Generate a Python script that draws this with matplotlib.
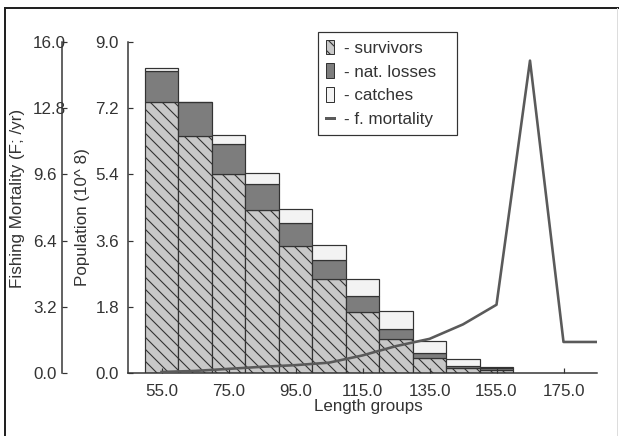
import matplotlib
matplotlib.use("Agg")
import matplotlib.pyplot as plt
from matplotlib.patches import Patch
from matplotlib.lines import Line2D

# length groups (mid points of 10 cm classes) and population in 10^8
groups = [55, 65, 75, 85, 95, 105, 115, 125, 135, 145, 155]
survivors = [7.37, 6.45, 5.40, 4.43, 3.45, 2.55, 1.67, 0.92, 0.40, 0.13, 0.08]
nat_losses = [0.84, 0.92, 0.84, 0.71, 0.62, 0.52, 0.42, 0.27, 0.15, 0.06, 0.05]
catches = [0.07, 0.0, 0.23, 0.29, 0.38, 0.41, 0.46, 0.49, 0.33, 0.18, 0.03]

# fishing mortality (F; /yr)
f_groups = [55, 65, 75, 85, 95, 105, 115, 125, 135, 145, 155, 165, 175, 185]
f_mort = [0.05, 0.1, 0.2, 0.3, 0.38, 0.5, 0.85, 1.3, 1.65, 2.35, 3.3, 15.1, 1.5, 1.5]

pop_ticks = [0.0, 1.8, 3.6, 5.4, 7.2, 9.0]
f_ticks = [0.0, 3.2, 6.4, 9.6, 12.8, 16.0]
x_ticks = [55, 75, 95, 115, 135, 155, 175]
labels = ['- survivors', '- nat. losses', '- catches', '- f. mortality']

W, H, DPI = 619, 436, 72
dark = '#333333'
c_surv, c_nat, c_catch, c_line = '#c8c8c8', '#7d7d7d', '#f3f3f3', '#5a5a5a'

plt.rcParams['font.family'] = ['Liberation Sans', 'DejaVu Sans']
plt.rcParams['font.size'] = 17
plt.rcParams['text.color'] = dark
plt.rcParams['hatch.linewidth'] = 1.1
plt.rcParams['xtick.direction'] = 'in'
plt.rcParams['ytick.direction'] = 'in'

fig = plt.figure(figsize=(W / DPI, H / DPI), dpi=DPI)
ax = fig.add_axes([128 / W, 1 - 373 / H, 469 / W, 331 / H])

# stacked bars
top2 = [s + n for s, n in zip(survivors, nat_losses)]
ax.bar(groups, survivors, width=10, color=c_surv, edgecolor=dark, hatch='\\\\', lw=1.2)
ax.bar(groups, nat_losses, width=10, bottom=survivors, color=c_nat, edgecolor=dark, lw=1.2)
ax.bar(groups, catches, width=10, bottom=top2, color=c_catch, edgecolor=dark, lw=1.2)

ax.set_xlim(45, 185)
ax.set_ylim(0, 9)
ax.set_xticks(x_ticks, [f'{v:.1f}' for v in x_ticks])
ax.set_yticks(pop_ticks, [f'{v:.1f}' for v in pop_ticks])
ax.tick_params(direction='in', length=5, width=1.2, colors=dark, pad=9)
ax.tick_params(axis='x', direction='in', pad=11)
for s in ['top', 'right']:
    ax.spines[s].set_visible(False)
for s in ['left', 'bottom']:
    ax.spines[s].set_color(dark)
    ax.spines[s].set_linewidth(1.5)

# fishing mortality on its own axis, moved out to the left
ax2 = ax.twinx()
ax2.plot(f_groups, f_mort, color=c_line, lw=2.6)
ax2.set_ylim(0, 16)
ax2.yaxis.tick_left()
ax2.yaxis.set_label_position('left')
for s in ['top', 'right', 'bottom']:
    ax2.spines[s].set_visible(False)
ax2.spines['left'].set_visible(True)
ax2.spines['left'].set_position(('axes', -66 / 469))
ax2.spines['left'].set_color(dark)
ax2.spines['left'].set_linewidth(1.5)
ax2.set_yticks(f_ticks, [f'{v:.1f}' for v in f_ticks])
ax2.tick_params(direction='in', length=5, width=1.2, colors=dark, pad=29)
plt.setp(ax2.get_yticklabels(), ha='left')

fig.text(18 / W, 1 - 198 / H, 'Fishing Mortality (F; /yr)', rotation=90, ha='center', va='center')
fig.text(83 / W, 1 - 217 / H, 'Population (10^ 8)', rotation=90, ha='center', va='center')
fig.text(368 / W, 1 - 407 / H, 'Length groups', ha='center', va='center')

handles = [Patch(facecolor=c_surv, edgecolor=dark, hatch='\\\\'),
           Patch(facecolor=c_nat, edgecolor=dark),
           Patch(facecolor=c_catch, edgecolor=dark),
           Line2D([], [], color=c_line, lw=3)]
leg = fig.legend(handles, labels, loc='upper left', mode='expand',
                 bbox_to_anchor=(318 / W, 1 - 135 / H, 139 / W, 103 / H),
                 borderaxespad=0, fancybox=False, edgecolor=dark, framealpha=1,
                 handlelength=0.5, handleheight=0.95, handletextpad=0.6,
                 labelspacing=0.45, borderpad=0.45, fontsize=17)
leg.get_frame().set_linewidth(1.2)

# frame around the picture
fig.add_artist(Line2D([4.5 / W, 4.5 / W], [0, 1 - 8 / H], color='#222222', lw=2))
fig.add_artist(Line2D([4.5 / W, 1], [1 - 8 / H, 1 - 8 / H], color='#222222', lw=2))
fig.add_artist(Line2D([617 / W, 617 / W], [0, 1 - 8 / H], color='#dddddd', lw=1))

fig.savefig('out.png', dpi=DPI)
